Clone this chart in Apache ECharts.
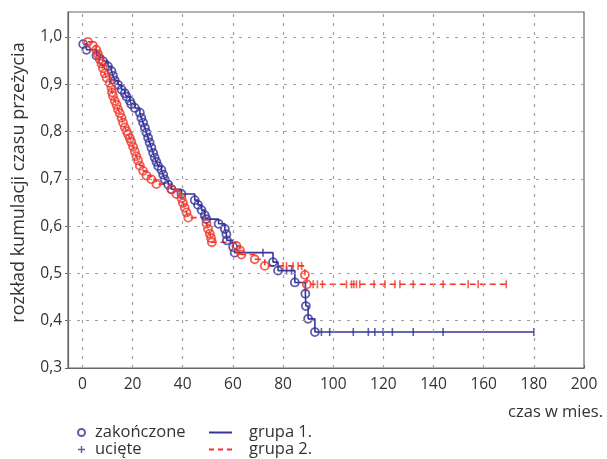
<!DOCTYPE html>
<html>
<head>
<meta charset="utf-8">
<script src="https://cdn.jsdelivr.net/npm/echarts@6/dist/echarts.min.js"></script>
<style>
  html, body { margin: 0; padding: 0; background: #fff; }
  #chart { width: 607px; height: 459px; }
</style>
</head>
<body>
<div id="chart"></div>
<script>
// grupa 1 - zdarzenia (czas, przeżycie)
var g1EventTime = [0.3, 1.6, 5.6, 8.2, 10.2, 11.6, 12.2, 12.9, 14.2, 15.6, 16.9, 17.6, 18.9, 19.5, 20.9,
  22.9, 23.5, 24.2, 24.9, 25.5, 26.2, 26.8, 27.5, 28.2, 28.8, 29.5, 30.2, 31.5, 32.2, 32.8, 34.2, 35.5,
  39.5, 44.8, 46.1, 47.5, 48.8, 49.4, 54.3, 56.8, 57.4, 57.6, 60.1, 60.7, 76.0, 78.0, 84.7, 88.9, 89.1,
  90.0, 92.7];
var g1EventSurv = [0.985, 0.973, 0.961, 0.949, 0.938, 0.928, 0.918, 0.908, 0.899, 0.889, 0.881, 0.874,
  0.865, 0.858, 0.850, 0.840, 0.829, 0.819, 0.808, 0.798, 0.787, 0.777, 0.766, 0.755, 0.745, 0.736, 0.727,
  0.719, 0.709, 0.699, 0.688, 0.678, 0.668, 0.655, 0.645, 0.634, 0.623, 0.615, 0.605, 0.594, 0.583, 0.570,
  0.556, 0.544, 0.524, 0.506, 0.481, 0.457, 0.431, 0.404, 0.376];
// grupa 1 - obserwacje ucięte
var g1CensTime = [72, 81.4, 83.4, 95.3, 98.6, 108, 114, 116.6, 119.9, 123.6, 131.9, 143.8, 180];

// grupa 2 - zdarzenia
var g2EventTime = [2.2, 4.2, 5.5, 6.2, 6.9, 7.6, 8.2, 8.9, 9.6, 10.9, 11.6, 11.8, 12.2, 12.9, 13.6, 14.2,
  14.9, 15.6, 16.2, 16.9, 17.6, 18.2, 18.9, 19.5, 20.2, 20.9, 21.5, 22.2, 22.9, 24.2, 25.5, 27.5, 29.5,
  35.5, 37.5, 39.5, 40.1, 40.8, 41.5, 42.2, 49.5, 50.1, 50.8, 51.3, 51.6, 61.4, 62.8, 63.4, 68.7, 72.7,
  88.7, 89.5];
var g2EventSurv = [0.990, 0.982, 0.973, 0.964, 0.953, 0.944, 0.934, 0.923, 0.914, 0.903, 0.893, 0.883,
  0.875, 0.865, 0.857, 0.847, 0.839, 0.829, 0.819, 0.809, 0.801, 0.794, 0.786, 0.778, 0.768, 0.758, 0.748,
  0.739, 0.728, 0.717, 0.707, 0.699, 0.689, 0.678, 0.668, 0.659, 0.649, 0.639, 0.629, 0.618, 0.605, 0.594,
  0.584, 0.575, 0.566, 0.558, 0.549, 0.540, 0.530, 0.516, 0.497, 0.477];
// grupa 2 - obserwacje ucięte
var g2CensTime = [80, 81.4, 84, 86, 87.4, 92, 93.7, 95.7, 105.3, 107.3, 108.2, 109.3, 110.6, 116.3,
  120.6, 124.6, 126.6, 131.9, 143.8, 153.8, 157.8, 169];

var xTicks = [0, 20, 40, 60, 80, 100, 120, 140, 160, 180, 200];
var yTicks = [0.3, 0.4, 0.5, 0.6, 0.7, 0.8, 0.9, 1.0];

var BLUE = '#35359a';
var RED = '#f0372a';
var TXT = '#333';
var FONT = 'Open Sans';
var GRIDLINE = { color: '#a0a0a0', type: [3, 6], width: 1.2 };

function pairs(ts, ss) {
  var out = [];
  for (var i = 0; i < ts.length; i++) out.push([ts[i], ss[i]]);
  return out;
}
// wartość krzywej K-M w chwili t (ostatnie zdarzenie <= t)
function survAt(ts, ss, t) {
  var s = ss[0];
  for (var i = 0; i < ts.length; i++) { if (ts[i] <= t) s = ss[i]; }
  return s;
}
function censored(evT, evS, cT) {
  return cT.map(function (t) { return [t, survAt(evT, evS, t)]; });
}
function curve(evT, evS, cT) {
  var pts = pairs(evT, evS).concat(censored(evT, evS, cT));
  pts.sort(function (a, b) { return a[0] - b[0]; });
  return pts;
}

// linie siatki (kropkowane)
var gridMarks = xTicks.slice(0, -1).map(function (v) { return { xAxis: v }; })
  .concat(yTicks.slice(1).map(function (v) { return { yAxis: v }; }));

var chart = echarts.init(document.getElementById('chart'));

var option = {
  animation: false,
  textStyle: { fontFamily: FONT },
  grid: {
    left: 68, right: 23, top: 12, bottom: 91,
    show: true, borderColor: '#666', borderWidth: 1.2
  },
  legend: [
    {
      orient: 'vertical', left: 77, top: 424, height: 40, padding: 0, itemGap: 0,
      itemWidth: 7, itemHeight: 7, selectedMode: false,
      textStyle: { fontFamily: FONT, fontSize: 16.5, color: TXT, lineHeight: 17, padding: [0, 0, 0, 5] },
      data: [
        { name: 'zakończone', icon: 'circle' },
        { name: 'ucięte', icon: 'path://M4,0H6V4H10V6H6V10H4V6H0V4H4Z', itemStyle: { color: BLUE, borderWidth: 0 } }
      ]
    },
    {
      orient: 'vertical', left: 209, top: 424, height: 40, padding: 0, itemGap: 0,
      itemWidth: 23, itemHeight: 2, selectedMode: false,
      textStyle: { fontFamily: FONT, fontSize: 16.5, color: TXT, lineHeight: 17, padding: [0, 0, 0, 12] },
      data: [
        { name: 'grupa 1.', icon: 'path://M0,0H23V2H0Z', itemStyle: { color: BLUE, borderWidth: 0 } },
        { name: 'grupa 2.', icon: 'path://M0,0H5V2H0Z M9,0H14V2H9Z M18,0H23V2H18Z', itemStyle: { color: RED, borderWidth: 0 } }
      ]
    }
  ],
  xAxis: {
    type: 'value', min: -5.75, max: 200,
    name: 'czas w mies.', nameLocation: 'end', nameGap: 19,
    nameTextStyle: { fontFamily: FONT, fontSize: 16.5, color: TXT, align: 'right', verticalAlign: 'top', padding: [36, 0, 0, 0] },
    axisLine: { show: true, onZero: false, lineStyle: { color: '#666', width: 1.2 } },
    axisTick: { show: true, inside: true, length: 3, customValues: xTicks, lineStyle: { color: '#666' } },
    axisLabel: { customValues: xTicks, fontFamily: FONT, fontSize: 15.5, color: TXT, margin: 9 },
    splitLine: { show: false }
  },
  yAxis: {
    type: 'value', min: 0.3, max: 1.053,
    name: 'rozkład kumulacji czasu przeżycia', nameLocation: 'middle', nameGap: 40,
    nameTextStyle: { fontFamily: FONT, fontSize: 18, color: TXT, padding: [0, 0, 0, 15] },
    axisLine: { show: true, onZero: false, lineStyle: { color: '#666', width: 1.2 } },
    axisTick: { show: true, length: 3, customValues: yTicks, lineStyle: { color: '#666' } },
    axisLabel: {
      customValues: yTicks, fontFamily: FONT, fontSize: 15.5, color: TXT, margin: 6,
      formatter: function (v) { return v.toFixed(1).replace('.', ','); }
    },
    splitLine: { show: false }
  },
  series: [
    {
      name: 'grupa 1.', type: 'line', step: 'end', showSymbol: false, symbol: 'none',
      lineStyle: { color: BLUE, width: 1.6 }, itemStyle: { color: BLUE },
      data: curve(g1EventTime, g1EventSurv, g1CensTime), z: 2,
      markLine: {
        silent: true, symbol: ['none', 'none'], label: { show: false },
        lineStyle: GRIDLINE, emphasis: { disabled: true },
        data: gridMarks
      }
    },
    {
      name: 'grupa 2.', type: 'line', step: 'end', showSymbol: false, symbol: 'none',
      lineStyle: { color: RED, width: 1.6, type: [6, 4] }, itemStyle: { color: RED },
      data: curve(g2EventTime, g2EventSurv, g2CensTime), z: 2
    },
    {
      name: 'zakończone', type: 'scatter', symbol: 'circle', symbolSize: 8,
      itemStyle: { color: 'rgba(255,255,255,0)', borderColor: BLUE, borderWidth: 1.8 },
      data: pairs(g1EventTime, g1EventSurv), z: 3
    },
    {
      name: 'zakończone', type: 'scatter', symbol: 'circle', symbolSize: 8,
      itemStyle: { color: 'rgba(255,255,255,0)', borderColor: RED, borderWidth: 1.8 },
      data: pairs(g2EventTime, g2EventSurv), z: 3
    },
    {
      name: 'ucięte', type: 'scatter', symbol: 'rect', symbolSize: [1.6, 8],
      itemStyle: { color: BLUE },
      data: censored(g1EventTime, g1EventSurv, g1CensTime), z: 3
    },
    {
      name: 'ucięte', type: 'scatter', symbol: 'rect', symbolSize: [1.6, 8],
      itemStyle: { color: RED },
      data: censored(g2EventTime, g2EventSurv, g2CensTime), z: 3
    }
  ]
};
chart.setOption(option);
</script>
</body>
</html>
